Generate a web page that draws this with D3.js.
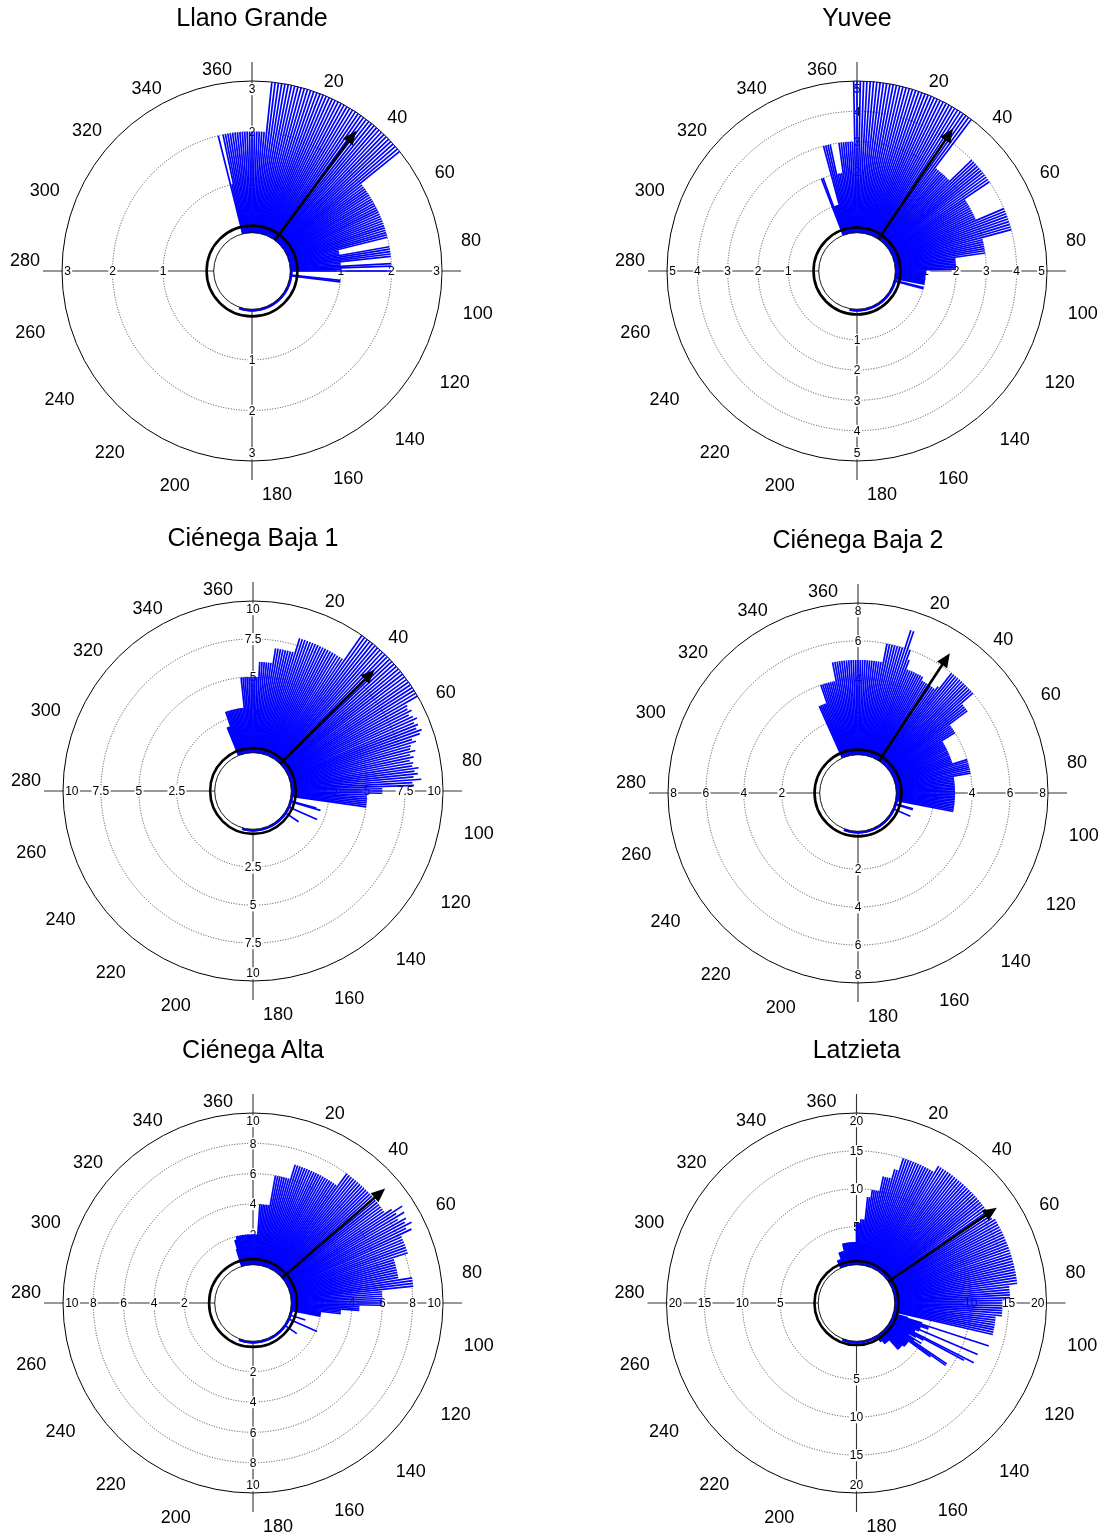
<!DOCTYPE html>
<html>
<head>
<meta charset="utf-8">
<script src="https://cdn.jsdelivr.net/npm/d3@7/dist/d3.min.js"></script>
<style>
  html, body { margin: 0; padding: 0; background: #fff; }
  svg { display: block; }
  text { font-family: "Liberation Sans", Arial, Helvetica, sans-serif; fill: #000; }
</style>
</head>
<body>
<svg id="chart" width="1105" height="1535"></svg>
<script>
// Sites, one rose diagram each
const siteNames = ["Llano Grande", "Yuvee", "Ciénega Baja 1", "Ciénega Baja 2", "Ciénega Alta", "Latzieta"];

// Radial axis of every rose: tick values and maximum
const radialTicks = [[1, 2, 3], [1, 2, 3, 4, 5], [2.5, 5, 7.5, 10], [2, 4, 6, 8], [2, 4, 6, 8, 10], [5, 10, 15, 20]];
const radialMax = [3, 5, 10, 8, 10, 20];

// Compass labels round each rose
const angleLabels = d3.range(20, 361, 20);

// Counts per 1-degree bin; each list starts at the bearing given in binStart
const binStart = [346, 339, 338, 336, 343, 336];

const llanoGrande = [
  2,1,2,2,2,2,2,2,2,2,   // 346
  2,2,2,2,2,2,2,2,2,2,   // 356
  3,3,3,3,3,3,3,3,3,3,   // 6
  3,3,3,3,3,3,3,3,3,3,   // 16
  3,3,3,3,3,3,3,3,3,3,   // 26
  3,3,3,3,3,3,3,3,3,3,   // 36
  3,3,3,3,3,3,2,2,2,2,   // 46
  2,2,2,2,2,2,2,2,2,2,   // 56
  2,2,2,2,2,2,2,2,2,2,   // 66
  2,1,1,1,2,2,2,2,2,1,   // 76
  1,2,2,1,2,0,0,0,0,0,   // 86
  1,1,0,0,0,0,0,0,0,0,   // 96
  0,0,0,0,0,0,0,0,0,0,   // 106
  0,0,0,0,0,0,0,0,0,0,   // 116
  0,0,0,0,0,0,0,0,0,0,   // 126
  0,0,0,0,0,0,0,0,0,0,   // 136
  0,0,0,0,0,0,0,0,0,0,   // 146
  0,0,0,0,0,0,0,0,0,0,   // 156
  0,0,0,0,0,0,0,0,0,0,   // 166
  0,0,0,0,0,0,0,0,0,0,   // 176
  0,0,0,0,0,0,0,0,0,0,   // 186
  0,0,0                  // 196
];

const yuvee = [
  2,2,1,1,1,1,3,3,3,3,   // 339
  2,2,2,3,3,3,3,3,3,3,   // 349
  5,5,5,5,5,5,5,5,5,5,   // 359
  5,5,5,5,5,5,5,5,5,5,   // 9
  5,5,5,5,5,5,5,5,5,5,   // 19
  5,5,5,5,5,5,5,5,5,3,   // 29
  3,3,3,3,3,3,3,4,4,4,   // 39
  4,4,4,4,4,4,4,4,3,3,   // 49
  3,3,3,3,3,3,3,3,4,4,   // 59
  4,4,4,4,4,4,4,3,3,3,   // 69
  3,3,3,3,2,2,2,2,2,2,   // 79
  2,1,1,1,1,1,1,1,1,1,   // 89
  1,1,1,0,0,1,1,0,0,0,   // 99
  0,0,0,0,0,0,0,0,0,0,   // 109
  0,0,0,0,0,0,0,0,0,0,   // 119
  0,0,0,0,0,0,0,0,0,0,   // 129
  0,0,0,0,0,0,0,0,0,0,   // 139
  0,0,0,0,0,0,0,0,0,0,   // 149
  0,0,0,0,0,0,0,0,0,0,   // 159
  0,0,0,0,0,0,0,0,0,0,   // 169
  0,0,0,0,0,0,0,0,0,0,   // 179
  0,0                    // 189
];

const cienegaBaja1 = [
  2,2,2,3,3,3,3,3,3,3,   // 338
  3,3,3,3,3,3,5,5,5,5,   // 348
  5,5,5,5,5,6,6,6,6,6,   // 358
  6,7,7,7,7,7,7,7,7,8,   // 8
  8,8,8,8,8,8,8,8,8,8,   // 18
  8,8,8,8,8,8,8,10,10,10,            // 28
  10,10,10,10,10,10,10,10,10,10,     // 38
  10,10,10,10,10,10,10,10,10,10,     // 48
  10,10,10,9.1,9,9.2,8.9,9.1,9.3,9,  // 58
  9.2,9,9.3,9.1,8.5,8.7,8.3,8.2,8.5,8.1, // 68
  8.3,8,8.2,8.1,8.5,8.2,8.4,8.1,8.6,8,   // 78
  8.1,6,6,6,5,5,5,5,5,5,   // 88
  5,0,0,0,0,0,0,1.8,2.1,0, // 98
  0,0,0,0,0,0,2.1,0,0,0,   // 108
  0,0,0,0,0,0,1.1,0,0,0,   // 118
  0,0,0,0,0,0,0,0,0,0,     // 128
  0,0,0,0,0,0,0,0,0,0,     // 138
  0,0,0,0,0,0,0,0,0,0,     // 148
  0,0,0,0,0,0,0,0,0,0,     // 158
  0,0,0,0,0,0,0,0,0,0,     // 168
  0,0,0,0,0,0,0,0,0,0,     // 178
  0,0,0,0,0,0,0,0          // 188
];

const cienegaBaja2 = [
  3,3,3,3,3,4,4,4,4,4,     // 336
  4,4,4,5,5,5,5,5,5,5,     // 346
  5,5,5,5,5,5,5,5,5,5,     // 356
  5,5,5,5,5,6,6,6,6,6,     // 6
  6,6,7,7,6,5.5,5,5,5,5,   // 16
  5,5,5,5,4.8,4.8,4.8,4.8,4.8,4.8,   // 26
  4.8,5,6,6,6,6,6,6,6,6,   // 36
  6,6,6,6,5.2,5.2,5.2,5.2,4,4,       // 46
  4,4,4,3.2,3.2,3.2,3.2,3.2,3.2,3.2, // 56
  3.2,3.2,3.2,3.2,3.2,3.2,3.2,4,4,4, // 66
  4,4,4,4,4,3.1,3.1,3.1,3.1,3.1,     // 76
  3.1,3.1,3.1,3.1,3.1,3.1,3.1,3.1,3.1,3.1, // 86
  3.1,3.1,3.1,3.1,3.1,3.1,0,0,0,0,   // 96
  1,1,0,0,0,0,0,0,1,0,     // 106
  0,0,0,0,0,0,0,0,0,0,     // 116
  0,0,0,0,0,0,0,0,0,0,     // 126
  0,0,0,0,0,0,0,0,0,0,     // 136
  0,0,0,0,0,0,0,0,0,0,     // 146
  0,0,0,0,0,0,0,0,0,0,     // 156
  0,0,0,0,0,0,0,0,0,0,     // 166
  0,0,0,0,0,0,0,0,0,0,     // 176
  0,0,0,0,0,0,0,0,0,0,     // 186
  0,0,0,0,0                // 196
];

const cienegaAlta = [
  1.2,1.8,1.8,2,2,2,2,2,2,2,   // 343
  2,2,2,2,2,2,2,2,2,2,         // 353
  2,4,4,4,4,4,4,6,6,6,         // 3
  6,6,6,6,7,7,7,7,7,7,         // 13
  7,7,7,7,7,7,7,7,7,7,         // 23
  7,7,7,8,8,8,8,8,8,8,         // 33
  8,8,8,8,8,8,8,8,8,8,         // 43
  8,8,8,8.5,9.2,8.6,9.1,8.5,9,8.8,     // 53
  9.2,8.7,9,8.2,8.2,8.2,8.2,8.2,8.2,8.2, // 63
  7.2,7.2,7.2,7.2,7.2,7.2,7.2,7.2,8.1,8.1, // 73
  8.1,8.1,6,6,6,6,6,6,6,4.5,   // 83
  4.5,4.5,3.3,3.3,3.3,2,2,2,2,0, // 93
  0,0,0,0,0,1.1,0,0,0,0,       // 103
  0,2.1,0,0,0,0,0,0,0,0,       // 113
  0,0,1,0,0,0,0,0,0,0,         // 123
  0,0,0,0,0,0,0,0,0,0,         // 133
  0,0,0,0,0,0,0,0,0,0,         // 143
  0,0,0,0,0,0,0,0,0,0,         // 153
  0,0,0,0,0,0,0,0,0,0,         // 163
  0,0,0,0,0,0,0,0,0,0,         // 173
  0,0,0,0,0,0,0,0,0,0,         // 183
  0,0,0,0,0,0,0,0              // 193
];

const latzieta = [
  1.1,1.1,1.1,1.1,1.1,2,2,2,2,2,         // 336
  2,3,3,3,3,3,3,3,3,3,                   // 346
  3,3,3,3,5.5,5.5,5.5,6,6,6,             // 356
  9,9,10,10,10,10,12,12,12,12,           // 6
  13.3,13.3,15,15,15,15,15,15,15,15,     // 16
  15,15,15,15,15,16,16,16,16,16,         // 26
  16,16,16,16,16,16,16,16,16,16,         // 36
  16,16,16,16,16,16,16,16,16,16,         // 46
  16,16,16,16.3,16.3,16.3,16.3,16.3,16.3,16.3,   // 56
  16.3,16.3,16.3,16.3,16.3,16.3,16.3,16.3,16.3,16.3, // 66
  16.3,16.3,16.3,16.3,16.3,16.3,16.3,16.3,15.2,15.2, // 76
  15.2,15.2,15.2,14.2,14.2,14.2,14.2,14.2,14.2,14.2, // 86
  13.4,13.4,13.4,13.4,13.4,13.4,13.4,13.4,0,0,       // 96
  2,4,13.3,5,5,4,4,12.3,4,3.5,           // 106
  3.5,12.3,11,5,4,3,5,4,9.3,9.3,         // 116
  7,3.5,3.5,3.5,3.5,3.5,3.5,3.2,3.2,3.2, // 126
  3.2,3.2,3.2,1.5,1.5,1.5,1.5,1.5,1.5,1.5, // 136
  1,1,1,0,0,0,0,0,0,0,                   // 146
  0,0,0,0,0,0,0,0,0,0,                   // 156
  0,0,0,0,0,0,0,0,0,0,                   // 166
  0,0,0,0,0,0,0,0,0,0,                   // 176
  0,0,0,0,0,0,0,0,0,0,                   // 186
  0,0,0,0,0                              // 196
];

const binValues = [llanoGrande, yuvee, cienegaBaja1, cienegaBaja2, cienegaAlta, latzieta];

// Mean direction (degrees) and mean resultant length of each site
const meanAngle = [36.6, 34, 45.1, 33.3, 49.1, 55.8];
const meanLength = [0.9, 0.88, 0.88, 0.85, 0.9, 0.866];

// Radius of the bold reference circle, in count units
const ringValue = [0.14, 0.17, 0.3, 0.27, 0.37, 0.49];

// ---------------------------------------------------------------------------
const svg = d3.select("#chart");
const outerR = 190, innerR = 38.3, axisOverhang = 19;
const centers = [[252, 271], [857, 271], [253, 791], [858, 793], [253, 1303], [856.5, 1303]];
const deg = d3.scaleLinear().domain([0, 360]).range([0, 2 * Math.PI]);
const fmt = d3.format("~g");

siteNames.forEach((name, k) => {
  const [cx, cy] = centers[k];
  const g = svg.append("g").attr("transform", `translate(${cx},${cy})`);
  const rMax = radialMax[k];
  const r = d3.scaleLinear().domain([0, rMax]).range([innerR, outerR]);
  const ticks = radialTicks[k];

  // outer frame and dotted count circles
  g.append("circle").attr("r", outerR)
    .attr("fill", "none").attr("stroke", "#000").attr("stroke-width", 1);
  g.selectAll("circle.grid").data(ticks.filter(t => t < rMax)).join("circle")
    .attr("class", "grid").attr("r", d => r(d))
    .attr("fill", "none").attr("stroke", "#333").attr("stroke-width", 0.9)
    .attr("stroke-dasharray", "1,1.6");

  // cross-hair axes
  const L = outerR + axisOverhang;
  g.append("line").attr("x1", -L).attr("x2", L).attr("y1", 0).attr("y2", 0)
    .attr("stroke", "#333").attr("stroke-width", 1.1);
  g.append("line").attr("x1", 0).attr("x2", 0).attr("y1", -L).attr("y2", L)
    .attr("stroke", "#333").attr("stroke-width", 1.1);

  // count labels along the four half-axes (own layer keeps the glyphs grey-scale)
  const tickG = g.append("g").attr("opacity", 0.999);
  [0, 90, 180, 270].forEach(dir => {
    ticks.forEach(t => {
      const lg = tickG.append("g");
      const txt = lg.append("text").attr("font-size", 12)
        .attr("text-anchor", "middle").attr("dy", "0.35em").text(fmt(t));
      const bb = txt.node().getBBox();
      let rr = r(t);
      if (t === rMax) rr -= (dir % 180 === 0) ? 8 : bb.width / 2 + 2;
      const [x, y] = d3.pointRadial(deg(dir), rr);
      lg.attr("transform", `translate(${x},${y})`);
      lg.insert("rect", "text")
        .attr("x", bb.x - 1).attr("y", bb.y + 1)
        .attr("width", bb.width + 2).attr("height", bb.height - 2)
        .attr("fill", "#fff");
    });
  });

  // histogram spokes, one per degree
  const start = binStart[k];
  g.append("g").attr("stroke", "#0000ff").attr("stroke-width", 1.7)
    .selectAll("line").data(binValues[k]).join("line")
    .each(function (v, i) {
      const a = deg((start + i) % 360);
      const [x1, y1] = d3.pointRadial(a, innerR - 1);
      const [x2, y2] = d3.pointRadial(a, v > 0 ? r(v) : innerR + 2.2);
      d3.select(this).attr("x1", x1).attr("y1", y1).attr("x2", x2).attr("y2", y2);
    });

  // hollow centre and bold reference circle
  g.append("circle").attr("r", innerR)
    .attr("fill", "#fff").attr("stroke", "#000").attr("stroke-width", 0.9);
  g.append("circle").attr("r", r(ringValue[k]))
    .attr("fill", "none").attr("stroke", "#000").attr("stroke-width", 2.6);

  // mean vector
  const tipR = innerR + meanLength[k] * (outerR - innerR);
  const ag = g.append("g").attr("transform", `rotate(${meanAngle[k]})`);
  ag.append("line").attr("x1", 0).attr("y1", -innerR).attr("x2", 0).attr("y2", -(tipR - 12))
    .attr("stroke", "#000").attr("stroke-width", 2.6);
  ag.append("path")
    .attr("d", `M0,${-tipR}L6,${-(tipR - 14)}L-6,${-(tipR - 14)}Z`)
    .attr("fill", "#000");

  // compass labels
  angleLabels.forEach(a => {
    const [x, y] = d3.pointRadial(deg(a * 0.985), 213);
    g.append("text").attr("x", x).attr("y", y + 10).attr("dy", "0.35em")
      .attr("font-size", 18).attr("text-anchor", a <= 180 ? "start" : "end")
      .text(a);
  });

  // site name
  g.append("text").attr("x", 0).attr("y", -245)
    .attr("text-anchor", "middle").attr("font-size", 25).text(name);
});
</script>
</body>
</html>
